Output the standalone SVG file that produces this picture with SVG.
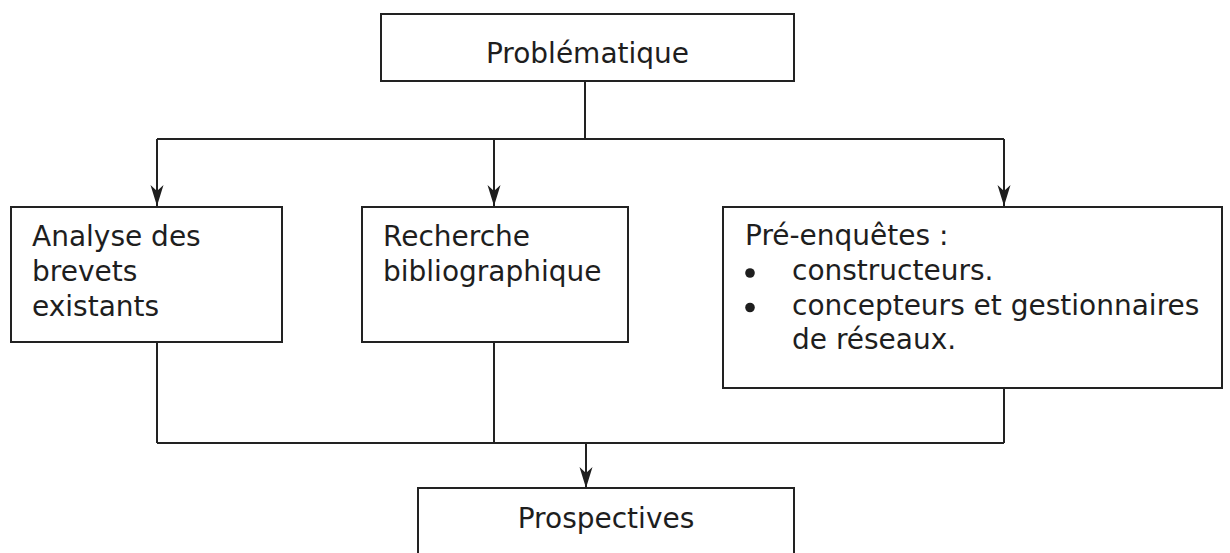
<svg xmlns="http://www.w3.org/2000/svg" width="1230" height="553" viewBox="0 0 1230 553">
<style>
.box{fill:#fff;stroke:#222;stroke-width:2}
.t{font-family:"DejaVu Sans",Verdana,sans-serif;font-size:28px;fill:#1e1e1e}
.c{fill:none;stroke:#222;stroke-width:2}
</style>
<defs>
<marker id="ah" viewBox="-21 -7 21 14" refX="0" refY="0" markerWidth="21" markerHeight="14" markerUnits="userSpaceOnUse" orient="auto">
<path d="M0,0 L-21,-6.5 L-15,0 L-21,6.5 Z" fill="#1e1e1e"/>
</marker>
</defs>
<rect width="1230" height="553" fill="#fff"/>
<g id="connectors">
<path class="c" d="M585,81 V139"/>
<path class="c" d="M157,139 H1004"/>
<path class="c" d="M157,139 V206" marker-end="url(#ah)"/>
<path class="c" d="M494,139 V206" marker-end="url(#ah)"/>
<path class="c" d="M1004,139 V206" marker-end="url(#ah)"/>
<path class="c" d="M157,342 V443"/>
<path class="c" d="M494,342 V443"/>
<path class="c" d="M1004,388 V443"/>
<path class="c" d="M157,443 H1004"/>
<path class="c" d="M586,443 V488" marker-end="url(#ah)"/>
</g>
<g id="problematique">
<rect class="box" x="381" y="14" width="413" height="67"/>
<text class="t" x="587.5" y="63" text-anchor="middle">Problématique</text>
</g>
<g id="analyse">
<rect class="box" x="11" y="207" width="271" height="135"/>
<text class="t" x="32" y="246">Analyse des</text>
<text class="t" x="32" y="281">brevets</text>
<text class="t" x="32" y="316">existants</text>
</g>
<g id="recherche">
<rect class="box" x="362" y="207" width="266" height="135"/>
<text class="t" x="383" y="246">Recherche</text>
<text class="t" x="383" y="281">bibliographique</text>
</g>
<g id="preenquetes">
<rect class="box" x="723" y="207" width="499" height="181"/>
<text class="t" x="745" y="245">Pré-enquêtes :</text>
<circle cx="750" cy="273" r="4.8" fill="#1e1e1e"/>
<text class="t" x="792" y="280">constructeurs.</text>
<circle cx="750" cy="307.5" r="4.8" fill="#1e1e1e"/>
<text class="t" x="792" y="314.5">concepteurs et gestionnaires</text>
<text class="t" x="792" y="349">de réseaux.</text>
</g>
<g id="prospectives">
<rect class="box" x="418" y="488" width="376" height="80"/>
<text class="t" x="606" y="528" text-anchor="middle">Prospectives</text>
</g>
</svg>
